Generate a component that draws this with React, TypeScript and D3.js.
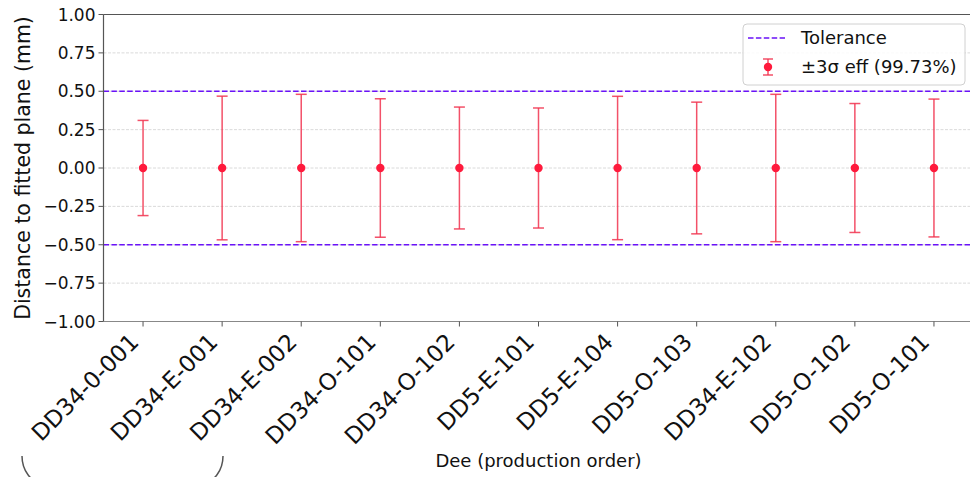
import React from "react";
import * as d3 from "d3";

const categories = [
  "DD34-0-001",
  "DD34-E-001",
  "DD34-E-002",
  "DD34-O-101",
  "DD34-O-102",
  "DD5-E-101",
  "DD5-E-104",
  "DD5-O-103",
  "DD34-E-102",
  "DD5-O-102",
  "DD5-O-101",
];
const centers = [0, 0, 0, 0, 0, 0, 0, 0, 0, 0, 0];
const sigma3 = [0.31, 0.468, 0.48, 0.451, 0.397, 0.391, 0.467, 0.429, 0.48, 0.42, 0.449];
const yTicks = [1.0, 0.75, 0.5, 0.25, 0.0, -0.25, -0.5, -0.75, -1.0];
const tolerance = [0.5, -0.5];

const W = 970;
const H = 477;
const left = 103.5;
const right = 973.5;
const top = 14.5;
const bottom = 321.5;

const FONT = "'DejaVu Sans', sans-serif";
const TOL = "#6a12f8";
const ERR = "#f2334f";
const DOT = "#ff1a3c";

export default function App() {
  const x = d3.scaleLinear().domain([-0.5, categories.length - 0.5]).range([left, right]);
  const y = d3.scaleLinear().domain([-1, 1]).range([bottom, top]);
  const fmt = (v: number) => d3.format(".2f")(v).replace("-", "\u2212");
  const cap = 5.5;

  return (
    <svg
      width={W}
      height={H}
      style={{ position: "absolute", left: 0, top: 0, background: "#fff" }}
      fontFamily={FONT}
    >
      {/* grid */}
      {yTicks.map((t) => (
        <line
          key={"g" + t}
          x1={left}
          x2={right}
          y1={y(t)}
          y2={y(t)}
          stroke="#d0d0d0"
          strokeWidth={0.8}
          strokeDasharray="3,1.5"
        />
      ))}
      {/* tolerance */}
      {tolerance.map((t) => (
        <line
          key={"t" + t}
          x1={left}
          x2={right}
          y1={y(t)}
          y2={y(t)}
          stroke={TOL}
          strokeWidth={1.6}
          strokeDasharray="5.5,2.4"
        />
      ))}
      {/* error bars */}
      {categories.map((c, i) => {
        const cx = x(i);
        const y1 = y(centers[i] + sigma3[i]);
        const y2 = y(centers[i] - sigma3[i]);
        return (
          <g key={c}>
            <line x1={cx} x2={cx} y1={y1} y2={y2} stroke={ERR} strokeWidth={1.5} opacity={0.85} />
            <line x1={cx - cap} x2={cx + cap} y1={y1} y2={y1} stroke={ERR} strokeWidth={1.5} opacity={0.85} />
            <line x1={cx - cap} x2={cx + cap} y1={y2} y2={y2} stroke={ERR} strokeWidth={1.5} opacity={0.85} />
            <circle cx={cx} cy={y(centers[i])} r={4.2} fill={DOT} />
          </g>
        );
      })}
      {/* spines */}
      <line x1={left} x2={left} y1={top} y2={bottom} stroke="#555" strokeWidth={1.2} />
      <line x1={left} x2={right} y1={top} y2={top} stroke="#555" strokeWidth={1.2} />
      <line x1={left} x2={right} y1={bottom} y2={bottom} stroke="#888" strokeWidth={1.2} />
      {/* y ticks */}
      {yTicks.map((t) => (
        <g key={"yt" + t}>
          <line x1={left - 5} x2={left} y1={y(t)} y2={y(t)} stroke="#555" strokeWidth={1} />
          <text x={left - 8} y={y(t)} dy="0.36em" textAnchor="end" fontSize={17} fill="#111">
            {fmt(t)}
          </text>
        </g>
      ))}
      {/* x ticks */}
      {categories.map((c, i) => (
        <g key={"xt" + c}>
          <line x1={x(i)} x2={x(i)} y1={bottom} y2={bottom + 5} stroke="#555" strokeWidth={1} />
          <text
            transform={`translate(${x(i) - 3},${bottom + 22}) rotate(-45)`}
            textAnchor="end"
            fontSize={23}
            fill="#111"
          >
            {c}
          </text>
        </g>
      ))}
      {/* axis labels */}
      <text
        transform={`translate(30,${(top + bottom) / 2}) rotate(-90)`}
        textAnchor="middle"
        fontSize={20.5}
        fill="#111"
      >
        Distance to fitted plane (mm)
      </text>
      <text x={(left + right) / 2} y={467} textAnchor="middle" fontSize={18} fill="#111">
        Dee (production order)
      </text>
      {/* legend */}
      <rect x={743} y={24} width={222} height={61} rx={4} fill="#fff" fillOpacity={0.85} stroke="#d0d0d0" strokeWidth={1} />
      <line x1={748} x2={785} y1={38} y2={38} stroke={TOL} strokeWidth={1.6} strokeDasharray="5.5,2.4" />
      <text x={801} y={38} dy="0.36em" fontSize={18} fill="#111">
        Tolerance
      </text>
      <line x1={768} x2={768} y1={59} y2={75} stroke={ERR} strokeWidth={1.5} opacity={0.85} />
      <line x1={763} x2={773} y1={59} y2={59} stroke={ERR} strokeWidth={1.5} opacity={0.85} />
      <line x1={763} x2={773} y1={75} y2={75} stroke={ERR} strokeWidth={1.5} opacity={0.85} />
      <circle cx={768} cy={67} r={4.2} fill={DOT} />
      <text x={801} y={67} dy="0.36em" fontSize={18} fill="#111">
        ±3σ eff (99.73%)
      </text>
      {/* decorative arc at bottom-left */}
      <path
        d="M22,456 C22,470 30,482 46,486 L199,486 C215,482 223,470 223,456"
        fill="none"
        stroke="#555"
        strokeWidth={1.5}
      />
    </svg>
  );
}
